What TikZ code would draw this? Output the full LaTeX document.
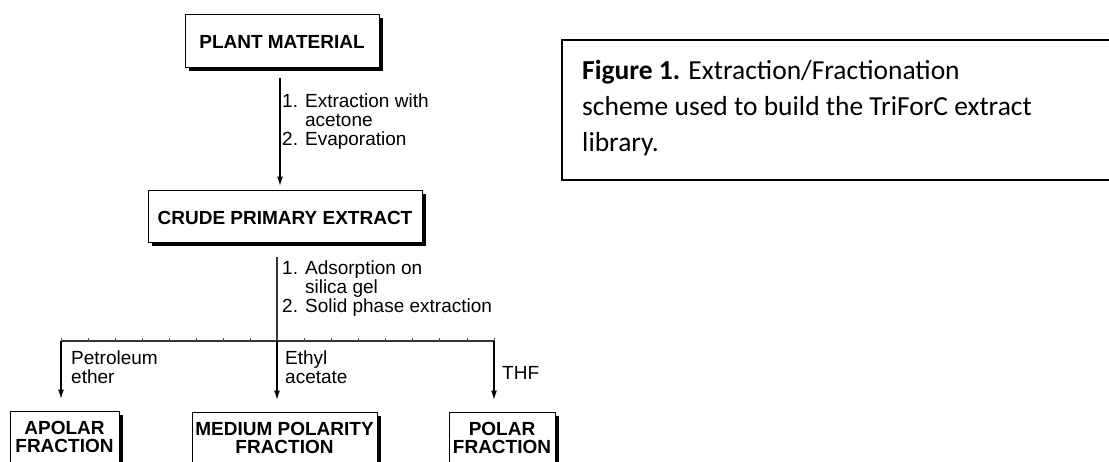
\documentclass[tikz,border=0pt]{standalone}
\usepackage{fontspec}
\setmainfont{Liberation Sans}
\newfontfamily\capfont{Carlito}
\usetikzlibrary{arrows.meta,shadows}
\begin{document}
\begin{tikzpicture}[x=1pt,y=-1pt,
  fbox/.style={draw=black, line width=0.9pt, fill=white, inner sep=0pt,
    font=\fontsize{19}{18}\selectfont\bfseries, align=center,
    general shadow={fill=black, shadow xshift=4pt, shadow yshift=-4pt}},
  lbl/.style={inner sep=0pt, font=\fontsize{19}{19}\selectfont, align=left},
  lbls/.style={inner sep=0pt, font=\fontsize{19}{19}\selectfont, align=left},
  arr/.style={line width=1.8pt, -{Latex[length=10pt,width=6pt]}},
  busline/.style={line width=1.3pt, black!80},
  tick/.style={line width=0.8pt, black!70},
]
\useasboundingbox (0,0) rectangle (1109,462);
\clip (0,0) rectangle (1109,462);

% boxes
\node[fbox, minimum width=194pt, minimum height=53pt, text height=17pt] (plant) at (282,40.5) {PLANT MATERIAL};
\node[fbox, minimum width=274pt, minimum height=52pt, text height=17pt] (crude) at (285,216) {CRUDE PRIMARY EXTRACT};
\node[fbox, minimum width=109pt, minimum height=52pt] (apolar) at (64.5,437) {APOLAR\\FRACTION};
\node[fbox, minimum width=185pt, minimum height=52pt] (medium) at (284.5,438) {MEDIUM POLARITY\\FRACTION};
\node[fbox, minimum width=106pt, minimum height=52pt] (polar) at (502,438) {POLAR\\FRACTION};

% step 1
\coordinate (a1) at (280,78);
\draw[arr, shorten >=3pt] (a1) -- (a1 |- crude.north);
\node[lbl, anchor=north west] (l1) at (282,94) {1. Extraction with\\\phantom{1. }acetone\\2. Evaporation};

% step 2
\coordinate (c2) at (277,257);
\coordinate (bus) at (277,341);
\coordinate (b1) at (61,341);
\coordinate (b3) at (494,341);
\draw[busline] (c2) -- (bus);
\draw[busline] (b1) -- (b3);
\foreach \i in {0,...,16} \draw[tick] ({61+\i*27.0625},341) -- ++(0,-2.5);
\node[lbl, anchor=north west] (l2) at (282,261) {1. Adsorption on\\\phantom{1. }silica gel\\2. Solid phase extraction};

\draw[arr, shorten >=11pt] (b1) -- (b1 |- apolar.north);
\draw[arr, shorten >=11pt] (bus) -- (bus |- medium.north);
\draw[arr, shorten >=11pt] (b3) -- (b3 |- polar.north);

\node[lbls, anchor=north west] (pe) at (71,351) {Petroleum\\ether};
\node[lbls, anchor=north west] (ea) at (285,351) {Ethyl\\acetate};
\node[lbls, anchor=base west] (thf) at (502,380) {THF};

% caption
\draw[line width=1.6pt] (562,40) rectangle (1120,180);
\node[inner sep=0pt, anchor=north west, align=left,
  font=\capfont\fontsize{27.5}{36}\selectfont] (cap) at (582,60)
  {\textbf{Figure 1.} Extraction/Fractionation\\scheme used to build the TriForC extract\\library.};
\end{tikzpicture}
\end{document}
